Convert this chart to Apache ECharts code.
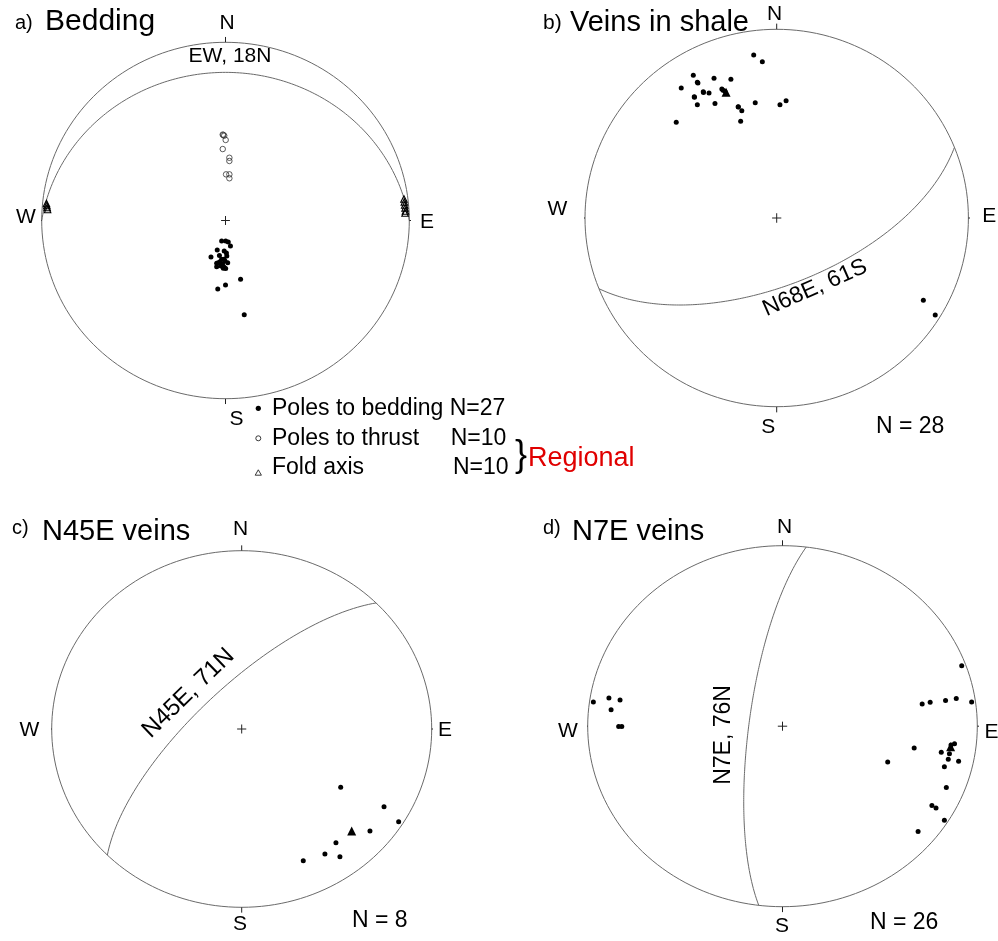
<!DOCTYPE html>
<html>
<head>
<meta charset="utf-8">
<title>Stereonets</title>
<script src="https://cdn.jsdelivr.net/npm/echarts@6/dist/echarts.min.js"></script>
<style>
  html, body { margin: 0; padding: 0; background: #fff; }
  #chart { width: 998px; height: 941px; }
</style>
</head>
<body>
<div id="chart"></div>
<script>
// Lower-hemisphere equal-area (Schmidt) projections.
// Point data: projected [east, north] positions on a unit net.

// a) Bedding
const beddingPoles = [
  [-0.021, -0.115], [0.001, -0.115], [0.015, -0.121], [0.027, -0.143], [-0.045, -0.166],
  [-0.007, -0.171], [-0.079, -0.205], [-0.033, -0.196], [0.007, -0.199], [-0.021, -0.218],
  [-0.003, -0.227], [-0.039, -0.237], [0.012, -0.237], [-0.048, -0.259], [-0.024, -0.255],
  [-0.007, -0.263], [0.001, -0.270], [-0.008, -0.218], [-0.030, -0.231], [0.082, -0.330],
  [0.000, -0.362], [-0.042, -0.384], [0.102, -0.529], [-0.016, -0.244], [-0.048, -0.240],
  [-0.012, -0.268], [0.005, -0.182]
];
const thrustPoles = [
  [-0.012, 0.480], [-0.007, 0.476], [-0.015, 0.482], [0.001, 0.452], [-0.015, 0.401],
  [0.021, 0.352], [0.021, 0.334], [0.003, 0.259], [0.021, 0.259], [0.021, 0.237]
];
const foldAxes = [
  [-0.974, 0.095], [-0.972, 0.084], [-0.970, 0.073], [-0.968, 0.062],
  [0.971, 0.121], [0.973, 0.104], [0.975, 0.087], [0.977, 0.070], [0.979, 0.053], [0.977, 0.042]
];

// b) Veins in shale
const shaleVeinPoles = [
  [-0.120, 0.864], [-0.075, 0.828], [-0.435, 0.756], [-0.414, 0.719], [-0.327, 0.740],
  [-0.239, 0.735], [-0.498, 0.689], [-0.383, 0.669], [-0.353, 0.662], [-0.430, 0.642],
  [-0.286, 0.683], [-0.270, 0.672], [-0.414, 0.600], [-0.322, 0.607], [-0.201, 0.590],
  [-0.182, 0.569], [-0.112, 0.611], [0.017, 0.600], [0.049, 0.622], [-0.524, 0.507],
  [-0.188, 0.513], [0.765, -0.436], [0.827, -0.514], [-0.280, 0.677], [-0.411, 0.716],
  [-0.382, 0.665], [-0.200, 0.588], [-0.429, 0.640]
];
const shaleVeinMean = [[-0.264, 0.666]];

// c) N45E veins
const n45VeinPoles = [
  [0.521, -0.327], [0.749, -0.436], [0.826, -0.520], [0.675, -0.572],
  [0.496, -0.638], [0.438, -0.701], [0.517, -0.716], [0.324, -0.739]
];
const n45VeinMean = [[0.579, -0.572]];

// d) N7E veins
const n7VeinPoles = [
  [-0.971, 0.134], [-0.891, 0.156], [-0.834, 0.145], [-0.880, 0.091], [-0.841, -0.001],
  [-0.825, -0.001], [0.920, 0.335], [0.717, 0.123], [0.758, 0.132], [0.837, 0.143],
  [0.892, 0.153], [0.971, 0.134], [0.676, -0.121], [0.540, -0.199], [0.815, -0.145],
  [0.857, -0.153], [0.883, -0.097], [0.851, -0.183], [0.831, -0.224], [0.904, -0.194],
  [0.841, -0.339], [0.767, -0.440], [0.788, -0.453], [0.831, -0.521], [0.696, -0.584],
  [0.865, -0.104]
];
const n7VeinMean = [[0.863, -0.114]];

// Mean planes (great circles): strike, dip, dip direction in degrees
const planeLabels = ['EW, 18N', 'N68E, 61S', 'N45E, 71N', 'N7E, 76N'];
const planeStrike = [90, 68, 45, 7];
const planeDip = [18, 61, 71, 76];
const planeDipDir = [0, 158, 315, 277];

const panelTitles = ['a)', 'b)', 'c)', 'd)'];
const panelNames = ['Bedding', 'Veins in shale', 'N45E veins', 'N7E veins'];
const panelCounts = ['', 'N = 28', 'N = 8', 'N = 26'];

// ---------------------------------------------------------------
const FONT = '"Liberation Sans", Arial, Helvetica, sans-serif';
const RAD = Math.PI / 180;

// net frames (pixel boxes of each primitive circle)
const frames = [
  { left: 41.7, top: 42.3, width: 367.6, height: 356.4 },
  { left: 585, top: 29.3, width: 383.4, height: 377.4 },
  { left: 51.7, top: 550.7, width: 380, height: 356.6 },
  { left: 587.7, top: 545.7, width: 389.6, height: 361 }
];

function primitiveCircle() {
  const pts = [];
  for (let a = 0; a <= 360; a += 2) pts.push([Math.cos(a * RAD), Math.sin(a * RAD)]);
  return pts;
}

// project a plane's great circle (lower hemisphere, equal-area)
function greatCircle(strike, dip, dipDir) {
  const s = [Math.sin(strike * RAD), Math.cos(strike * RAD), 0];
  const d = [Math.sin(dipDir * RAD) * Math.cos(dip * RAD),
             Math.cos(dipDir * RAD) * Math.cos(dip * RAD),
             Math.sin(dip * RAD)];
  const pts = [];
  for (let t = 0; t <= 180; t += 1) {
    const c = Math.cos(t * RAD), sn = Math.sin(t * RAD);
    const e = c * s[0] + sn * d[0];
    const n = c * s[1] + sn * d[1];
    const dn = Math.max(0, Math.min(1, c * s[2] + sn * d[2]));
    const plunge = Math.asin(dn);
    const trend = Math.atan2(e, n);
    const r = Math.SQRT2 * Math.sin((Math.PI / 2 - plunge) / 2);
    pts.push([r * Math.sin(trend), r * Math.cos(trend)]);
  }
  return pts;
}

const grids = [], xAxes = [], yAxes = [], series = [];

function lineSeries(i, data, color, width) {
  return {
    type: 'line', xAxisIndex: i, yAxisIndex: i, data: data,
    showSymbol: false, symbol: 'none', clip: false, silent: true, smooth: false,
    lineStyle: { color: color, width: width }, z: 2, animation: false
  };
}

const TK = 0.03, PL = 0.024;
const pointSets = [
  [{ data: beddingPoles, kind: 'dot' }, { data: thrustPoles, kind: 'ring' }, { data: foldAxes, kind: 'openTri' }],
  [{ data: shaleVeinPoles, kind: 'dot' }, { data: shaleVeinMean, kind: 'tri' }],
  [{ data: n45VeinPoles, kind: 'dot' }, { data: n45VeinMean, kind: 'tri' }],
  [{ data: n7VeinPoles, kind: 'dot' }, { data: n7VeinMean, kind: 'tri' }]
];

frames.forEach((f, i) => {
  grids.push({ left: f.left, top: f.top, width: f.width, height: f.height, containLabel: false, show: false });
  xAxes.push({ type: 'value', gridIndex: i, min: -1, max: 1, show: false });
  yAxes.push({ type: 'value', gridIndex: i, min: -1, max: 1, show: false });

  series.push(lineSeries(i, primitiveCircle(), '#6a6a6a', 1));
  series.push(lineSeries(i, greatCircle(planeStrike[i], planeDip[i], planeDipDir[i]), '#6a6a6a', 1));
  // cardinal ticks and centre cross
  [
    [[0, 1], [0, 1 + TK]], [[0, -1], [0, -1 - TK]],
    [[1, 0], [1 + TK, 0]], [[-1, 0], [-1 - TK, 0]],
    [[-PL, 0], [PL, 0]], [[0, -PL * 1.05], [0, PL * 1.05]]
  ].forEach(seg => series.push(lineSeries(i, seg, '#222', 1)));

  pointSets[i].forEach(ps => {
    const s = {
      type: 'scatter', xAxisIndex: i, yAxisIndex: i, data: ps.data, clip: false,
      silent: true, z: 5, animation: false
    };
    if (ps.kind === 'dot') {
      s.symbol = 'circle'; s.symbolSize = 5; s.itemStyle = { color: '#000', opacity: 1 };
    } else if (ps.kind === 'ring') {
      s.symbol = 'circle'; s.symbolSize = 5.5;
      s.itemStyle = { color: 'rgba(0,0,0,0)', borderColor: '#333', borderWidth: 0.8, opacity: 1 };
    } else if (ps.kind === 'openTri') {
      s.symbol = 'triangle'; s.symbolSize = 6.5;
      s.itemStyle = { color: 'rgba(0,0,0,0)', borderColor: '#000', borderWidth: 1.1, opacity: 1 };
    } else {
      s.symbol = 'triangle'; s.symbolSize = 9; s.itemStyle = { color: '#000', opacity: 1 };
    }
    series.push(s);
  });
});

// ---------------------------------------------------------------
function txt(text, x, y, size, opts) {
  opts = opts || {};
  return {
    type: 'text', x: x, y: y, rotation: opts.rot || 0, silent: true, z: 10,
    style: {
      text: text, fill: opts.color || '#000',
      font: size + 'px ' + FONT,
      textAlign: opts.align || 'center', textVerticalAlign: 'middle'
    }
  };
}

const graphics = [
  // a)
  txt(panelTitles[0], 15, 23, 20, { align: 'left' }),
  txt(panelNames[0], 45, 21.5, 30, { align: 'left' }),
  txt('N', 227, 23.5, 21), txt('W', 26, 217, 21), txt('E', 427, 222.5, 21), txt('S', 236.5, 419.5, 21),
  txt(planeLabels[0], 230, 56, 21),
  // legend
  txt('Poles to bedding N=27', 272, 409, 23, { align: 'left' }),
  txt('Poles to thrust', 272, 438.5, 23, { align: 'left' }),
  txt('N=10', 450.7, 438.5, 23, { align: 'left' }),
  txt('Fold axis', 272, 467.5, 23, { align: 'left' }),
  txt('N=10', 453, 467.5, 23, { align: 'left' }),
  txt('}', 521, 456, 36),
  txt('Regional', 528, 459, 27, { align: 'left', color: '#e00000' }),
  { type: 'circle', shape: { cx: 258.3, cy: 408.3, r: 2.6 }, style: { fill: '#000' }, silent: true },
  { type: 'circle', shape: { cx: 258.3, cy: 438.3, r: 2.5 }, style: { fill: 'none', stroke: '#222', lineWidth: 0.9 }, silent: true },
  { type: 'polygon', shape: { points: [[258.3, 469.8], [261.4, 475.2], [255.2, 475.2]] }, style: { fill: 'none', stroke: '#222', lineWidth: 0.9 }, silent: true },

  // b)
  txt(panelTitles[1], 543, 23, 21, { align: 'left' }),
  txt(panelNames[1], 570, 23, 29, { align: 'left' }),
  txt('N', 774.7, 14.7, 21), txt('W', 557.5, 209, 21), txt('E', 989.3, 216, 21), txt('S', 768.3, 427, 21),
  txt(panelCounts[1], 876, 426.5, 23, { align: 'left' }),
  txt(planeLabels[1], 815, 288, 23, { rot: 23.7 * RAD }),

  // c)
  txt(panelTitles[2], 12, 528, 20, { align: 'left' }),
  txt(panelNames[2], 42, 532, 29, { align: 'left' }),
  txt('N', 240.5, 529.5, 21), txt('W', 29.5, 730.5, 21), txt('E', 445, 730.5, 21), txt('S', 240, 924, 21),
  txt(panelCounts[2], 352, 920.5, 23, { align: 'left' }),
  txt(planeLabels[2], 188.3, 693.3, 24, { rot: 44 * RAD }),

  // d)
  txt(panelTitles[3], 543, 528, 20, { align: 'left' }),
  txt(panelNames[3], 572, 532, 29, { align: 'left' }),
  txt('N', 784.5, 527.5, 21), txt('W', 568, 731, 21), txt('E', 991.5, 732, 21), txt('S', 782, 926, 21),
  txt(panelCounts[3], 870, 922.5, 23, { align: 'left' }),
  txt(planeLabels[3], 723.3, 735, 23, { rot: 90 * RAD })
];

const chart = echarts.init(document.getElementById('chart'), null, { renderer: 'canvas' });
chart.setOption({
  backgroundColor: '#fff',
  animation: false,
  grid: grids,
  xAxis: xAxes,
  yAxis: yAxes,
  series: series,
  graphic: graphics
});
</script>
</body>
</html>
